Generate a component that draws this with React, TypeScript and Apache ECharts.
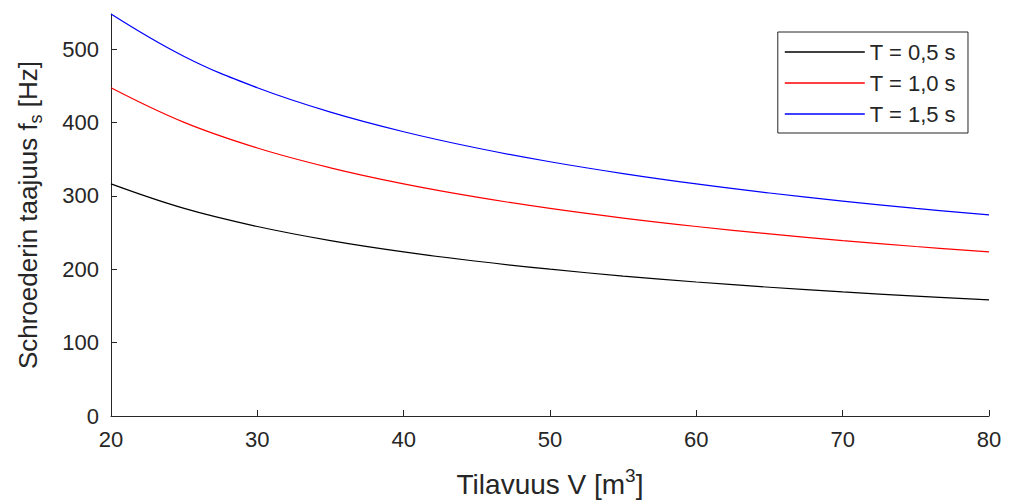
import React, { useEffect, useRef } from "react";
import * as echarts from "echarts";

const volumes = [20, 25, 30, 35, 40, 45, 50, 55, 60, 65, 70, 75, 80];
const t05 = [316.2, 282.8, 258.2, 239.0, 223.6, 210.8, 200.0, 190.7, 182.6, 175.4, 169.0, 163.3, 158.1];
const t10 = [447.2, 400.0, 365.1, 338.1, 316.2, 298.1, 282.8, 269.7, 258.2, 248.1, 239.0, 230.9, 223.6];
const t15 = [547.7, 489.9, 447.2, 414.0, 387.3, 365.1, 346.4, 330.3, 316.2, 303.8, 292.8, 282.8, 273.9];
const seriesNames = ["T = 0,5 s", "T = 1,0 s", "T = 1,5 s"];
const seriesColors = ["#000000", "#ff0000", "#0000ff"];

const FONT = "Liberation Sans, Arial, Helvetica, sans-serif";
const AXIS = "#262626";

export default function App() {
  const ref = useRef<HTMLDivElement>(null);
  useEffect(() => {
    const chart = echarts.init(ref.current!, null, { renderer: "svg" });
    const all = [t05, t10, t15];
    chart.setOption({
      animation: false,
      backgroundColor: "#ffffff",
      textStyle: { fontFamily: FONT },
      grid: { left: 111, top: 14, width: 878, height: 402, outerBoundsMode: "none", containLabel: false },
      legend: {
        right: 42,
        top: 32,
        orient: "vertical",
        icon: "rect",
        itemWidth: 80,
        itemHeight: 1.3,
        itemGap: 9,
        itemTextGap: 7,
        padding: [9, 12, 8, 7],
        borderColor: "#262626",
        borderWidth: 1,
        textStyle: { fontSize: 22, color: AXIS, fontFamily: FONT, lineHeight: 22 },
        data: seriesNames,
      },
      xAxis: {
        type: "value",
        min: 20,
        max: 80,
        interval: 10,
        name: "{a|Tilavuus V [m}{sup|3}{a|]}",
        nameLocation: "middle",
        nameGap: 50,
        nameTextStyle: {
          rich: {
            a: { fontSize: 28, color: AXIS, fontFamily: FONT, verticalAlign: "bottom", lineHeight: 32 },
            sup: { fontSize: 19, color: AXIS, fontFamily: FONT, verticalAlign: "top", lineHeight: 19, padding: [0, 0, 15, 0] },
          },
        },
        axisLine: { lineStyle: { color: AXIS, width: 1 } },
        axisTick: { inside: true, length: 6, lineStyle: { color: AXIS } },
        axisLabel: { fontSize: 22, color: AXIS, margin: 12, fontFamily: FONT },
        splitLine: { show: false },
      },
      yAxis: {
        type: "value",
        min: 0,
        max: (v: { max: number }) => v.max,
        interval: 100,
        name: "{a|Schroederin taajuus f}{sub|s}{a| [Hz]}",
        nameLocation: "middle",
        nameRotate: 90,
        nameGap: 66,
        nameTextStyle: {
          rich: {
            a: { fontSize: 26, color: AXIS, fontFamily: FONT, verticalAlign: "top", lineHeight: 30 },
            sub: { fontSize: 18, color: AXIS, fontFamily: FONT, verticalAlign: "bottom", lineHeight: 18, padding: [12, 0, 0, 0] },
          },
        },
        axisLine: { show: true, lineStyle: { color: AXIS, width: 1 } },
        axisTick: { show: true, inside: true, length: 6, lineStyle: { color: AXIS } },
        axisLabel: { fontSize: 22, color: AXIS, margin: 12, fontFamily: FONT, showMaxLabel: false },
        splitLine: { show: false },
      },
      series: all.map((vals, i) => ({
        name: seriesNames[i],
        type: "line",
        data: volumes.map((v, j) => [v, vals[j]]),
        smooth: 0.4,
        showSymbol: false,
        symbol: "none",
        color: seriesColors[i],
        lineStyle: { color: seriesColors[i], width: 1.2 },
      })),
    });
    return () => chart.dispose();
  }, []);
  return (
    <div
      ref={ref}
      style={{ position: "fixed", left: 0, top: 0, width: 1010, height: 500 }}
    />
  );
}
